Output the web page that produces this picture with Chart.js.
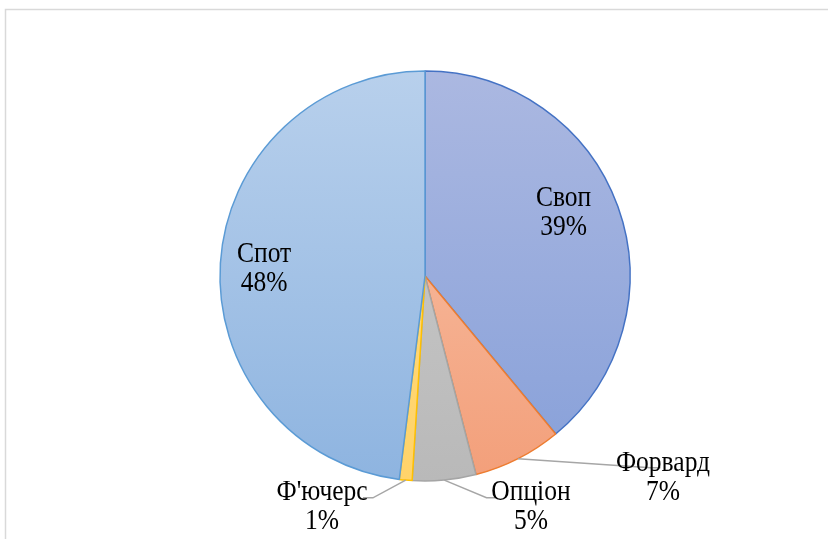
<!DOCTYPE html>
<html>
<head>
<meta charset="utf-8">
<script src="https://cdn.jsdelivr.net/npm/chart.js@4.4.1/dist/chart.umd.min.js"></script>
<style>
html,body{margin:0;padding:0;background:#fff;}
#wrap{width:828px;height:539px;position:relative;}
</style>
</head>
<body>
<div id="wrap"><canvas id="c" width="828" height="539"></canvas></div>
<script>
const categories = ['Своп', 'Форвард', 'Опціон', "Ф'ючерс", 'Спот'];
const values = [39, 7, 5, 1, 48];
const percentLabels = ['39%', '7%', '5%', '1%', '48%'];
const gradTop = ['#abb8e1', '#f8c6ad', '#cdcdcd', '#ffdc85', '#b8d0ec'];
const gradBottom = ['#87a0d9', '#f39f7a', '#b9b9b9', '#ffd36a', '#8eb4e0'];
const borderColors = ['#4472c4', '#ed7d31', '#a5a5a5', '#ffc000', '#5b9bd5'];

// label placement: first-line baseline relative to pie centre (radius units)
const labelPos = [
  {dx: 0.676, dy: -0.341, leader: null},
  {dx: 1.161, dy: 0.951, leader: {tx: 1.10, ty: 0.935, side: 'left'}},
  {dx: 0.517, dy: 1.093, leader: {tx: 0.30, ty: 1.082, side: 'left'}},
  {dx: -0.502, dy: 1.093, leader: {tx: -0.254, ty: 1.082, side: 'right'}},
  {dx: -0.785, dy: -0.068, leader: null}
];

const framePlugin = {
  id: 'frame',
  beforeDraw(chart) {
    const ctx = chart.ctx;
    ctx.save();
    ctx.fillStyle = '#fff';
    ctx.fillRect(0, 0, chart.width, chart.height);
    ctx.strokeStyle = '#d9d9d9';
    ctx.lineWidth = 1.5;
    ctx.strokeRect(5.5, 9.5, 900, 600);
    ctx.restore();
  }
};

const labelPlugin = {
  id: 'labels',
  afterDatasetsDraw(chart) {
    const ctx = chart.ctx;
    const meta = chart.getDatasetMeta(0);
    ctx.save();
    meta.data.forEach((arc, i) => {
      const cx = arc.x, cy = arc.y, r = arc.outerRadius;
      const p = labelPos[i];
      const lx = cx + p.dx * r, ly = cy + p.dy * r;
      if (p.leader) {
        const mid = (arc.startAngle + arc.endAngle) / 2;
        const sx = cx + Math.cos(mid) * r;
        const sy = cy + Math.sin(mid) * r;
        const ex = cx + p.leader.tx * r, ey = cy + p.leader.ty * r;
        const hx = p.leader.side === 'left' ? ex + 10 : ex - 10;
        ctx.strokeStyle = '#a6a6a6';
        ctx.lineWidth = 1.5;
        ctx.beginPath();
        ctx.moveTo(sx, sy);
        ctx.lineTo(ex, ey);
        ctx.lineTo(hx, ey);
        ctx.stroke();
      }
      ctx.fillStyle = '#000';
      ctx.font = "29px 'Liberation Serif', 'Times New Roman', serif";
      ctx.textAlign = 'center';
      ctx.textBaseline = 'alphabetic';
      [categories[i], percentLabels[i]].forEach((t, k) => {
        ctx.save();
        ctx.translate(lx, ly + k * 29);
        ctx.scale(0.88, 1);
        ctx.fillText(t, 0, 0);
        ctx.restore();
      });
    });
    ctx.restore();
  }
};

function grad(ctx, i) {
  const chart = ctx.chart;
  const ca = chart.chartArea;
  if (!ca) return gradTop[i];
  const g = chart.ctx.createLinearGradient(0, ca.top, 0, ca.bottom);
  g.addColorStop(0, gradTop[i]);
  g.addColorStop(1, gradBottom[i]);
  return g;
}

new Chart(document.getElementById('c'), {
  type: 'pie',
  data: {
    labels: categories,
    datasets: [{
      data: values,
      backgroundColor: (ctx) => grad(ctx, ctx.dataIndex),
      borderColor: borderColors,
      borderWidth: 1.5
    }]
  },
  options: {
    responsive: false,
    animation: false,
    radius: 205,
    layout: {padding: {top: 71, bottom: 58, left: 220, right: 198}},
    plugins: {legend: {display: false}, tooltip: {enabled: false}}
  },
  plugins: [framePlugin, labelPlugin]
});
</script>
</body>
</html>
